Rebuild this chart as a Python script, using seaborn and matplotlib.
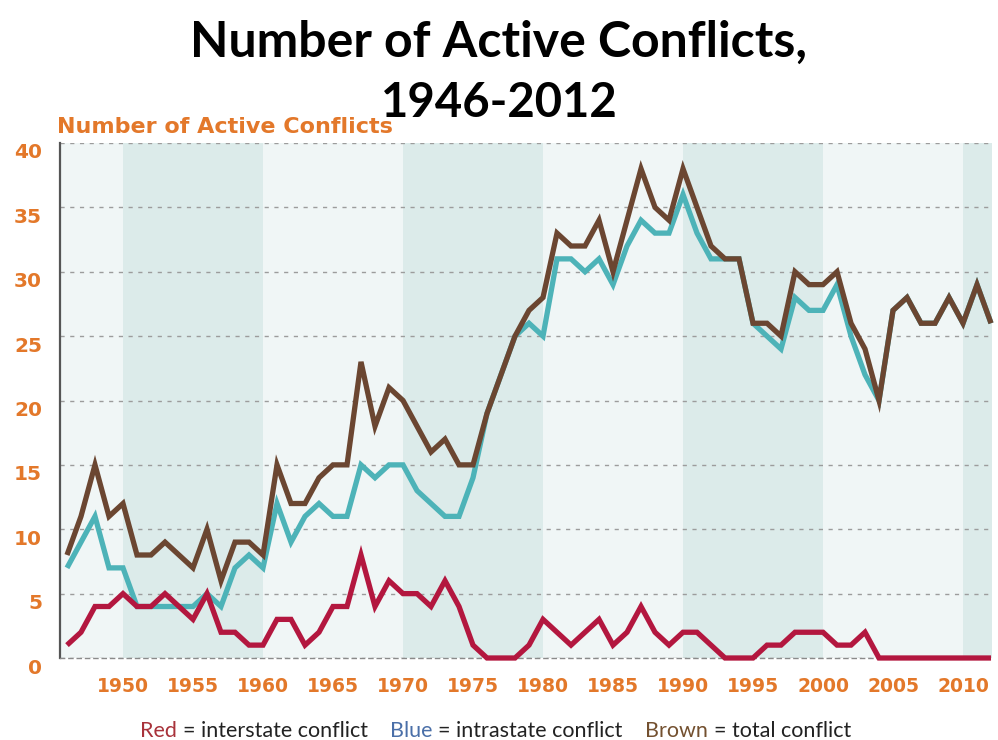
import matplotlib
matplotlib.use("Agg")
import matplotlib.pyplot as plt
import matplotlib.transforms as mtransforms
from matplotlib.ticker import FixedLocator, FixedFormatter
import pandas as pd
import seaborn as sns

# ---- data -----------------------------------------------------------------
years = list(range(1946, 2013))

interstate = [1, 2, 4, 4, 5, 4, 4, 5, 4, 3, 5, 2, 2, 1, 1,
              3, 3, 1, 2, 4, 4, 8, 4, 6, 5, 5, 4, 6, 4, 1,
              0, 0, 0, 1, 3, 2, 1, 2, 3, 1, 2, 4, 2, 1, 2,
              2, 1, 0, 0, 0, 1, 1, 2, 2, 2, 1, 1, 2, 0, 0,
              0, 0, 0, 0, 0, 0, 0]

intrastate = [7, 9, 11, 7, 7, 4, 4, 4, 4, 4, 5, 4, 7, 8, 7,
              12, 9, 11, 12, 11, 11, 15, 14, 15, 15, 13, 12, 11, 11, 14,
              19, 22, 25, 26, 25, 31, 31, 30, 31, 29, 32, 34, 33, 33, 36,
              33, 31, 31, 31, 26, 25, 24, 28, 27, 27, 29, 25, 22, 20, 27,
              28, 26, 26, 28, 26, 29, 26]

total = [8, 11, 15, 11, 12, 8, 8, 9, 8, 7, 10, 6, 9, 9, 8,
         15, 12, 12, 14, 15, 15, 23, 18, 21, 20, 18, 16, 17, 15, 15,
         19, 22, 25, 27, 28, 33, 32, 32, 34, 30, 34, 38, 35, 34, 38,
         35, 32, 31, 31, 26, 26, 25, 30, 29, 29, 30, 26, 24, 20, 27,
         28, 26, 26, 28, 26, 29, 26]

labelled_years = [1950, 1955, 1960, 1965, 1970, 1975, 1980,
                  1985, 1990, 1995, 2000, 2005, 2010]
y_ticks = [0, 5, 10, 15, 20, 25, 30, 35, 40]
shaded_decades = [(1950, 1960), (1970, 1980), (1990, 2000), (2010, 2013)]

# ---- styling ----------------------------------------------------------------
ORANGE = "#e3782a"
RED = "#b3173f"
TEAL = "#4db3b8"
BROWN = "#6b4631"
LIGHT_BG = "#f0f6f6"
DARK_BG = "#dcebea"

sns.set_theme(style="white")
plt.rcParams["font.family"] = ["DejaVu Sans"]

W, H = 998, 740
fig = plt.figure(figsize=(W / 100, H / 100), dpi=100)
fig.patch.set_facecolor("white")

ax_left, ax_right, ax_top, ax_bottom = 60, 992, 143, 658
ax = fig.add_axes([ax_left / W, 1 - ax_bottom / H,
                   (ax_right - ax_left) / W, (ax_bottom - ax_top) / H])

ax.set_facecolor(LIGHT_BG)
for start, end in shaded_decades:
    ax.axvspan(start, end, color=DARK_BG, lw=0, zorder=0)

df = pd.DataFrame({"year": years, "interstate": interstate,
                   "intrastate": intrastate, "total": total})

for col, colour, z in [("intrastate", TEAL, 3), ("total", BROWN, 4),
                       ("interstate", RED, 5)]:
    sns.lineplot(data=df, x="year", y=col, color=colour, linewidth=3.8,
                 ax=ax, zorder=z)

for line in ax.lines:
    line.set_clip_on(False)
    line.set_solid_joinstyle("miter")
    line.set_solid_capstyle("butt")

ax.set_xlim(1945.5, 2012.07)
ax.set_ylim(0, 40)

# grid
ax.set_yticks(y_ticks)
ax.yaxis.grid(True, linestyle=(0, (3, 4)), color="#9c9c9c", linewidth=1.0)
ax.xaxis.grid(False)
ax.set_axisbelow(True)

# spines
for s in ("top", "right"):
    ax.spines[s].set_visible(False)
ax.spines["left"].set_linestyle((0, (2, 1)))
ax.spines["left"].set_color("#555555")
ax.spines["left"].set_linewidth(1.6)
ax.spines["bottom"].set_linestyle((0, (3, 3)))
ax.spines["bottom"].set_color("#8a8a8a")
ax.spines["bottom"].set_linewidth(1.0)

# x ticks: a mark every year, a label every five years
ax.xaxis.set_major_locator(FixedLocator(years))
ax.xaxis.set_major_formatter(FixedFormatter(
    [str(y) if y in labelled_years else "" for y in years]))
ax.tick_params(axis="x", direction="out", length=6.5, width=1.0,
               color="#7a7a7a", pad=7, labelsize=13.5, labelcolor=ORANGE)
ax.tick_params(axis="y", length=0, pad=13, labelsize=14.5, labelcolor=ORANGE)
for lbl in ax.get_xticklabels() + ax.get_yticklabels():
    lbl.set_fontweight("bold")
shift = mtransforms.ScaledTranslation(0, -8 / 100, fig.dpi_scale_trans)
for lbl in ax.get_yticklabels():
    lbl.set_transform(lbl.get_transform() + shift)

ax.set_xlabel("")
ax.set_ylabel("")

# titles
fig.text(0.5, 1 - 42 / H, "Number of Active Conflicts,", ha="center",
         va="center", fontsize=36, fontweight="bold", color="black",
         family=["Lato", "DejaVu Sans"])
fig.text(0.5, 1 - 103 / H, "1946-2012", ha="center", va="center",
         fontsize=34, fontweight="bold", color="black",
         family=["Lato", "DejaVu Sans"])
fig.text(57 / W, 1 - 127 / H, "Number of Active Conflicts", ha="left",
         va="center", fontsize=16, fontweight="bold", color=ORANGE,
         family=["DejaVu Sans"])

# colour key below the chart
renderer = fig.canvas.get_renderer()
key_parts = [("Red", "#a8323a"), ("= interstate conflict", "#222222"),
             ("Blue", "#4a6fa8"), ("= intrastate conflict", "#222222"),
             ("Brown", "#73502f"), ("= total conflict", "#222222")]
gaps = [6, 22, 6, 22, 6, 0]
key_texts = []
for txt, colour in key_parts:
    t = fig.text(0, 1 - 731 / H, txt, ha="left", va="center", fontsize=15.5,
                 color=colour, family=["Lato", "DejaVu Sans"])
    key_texts.append(t)
widths = [t.get_window_extent(renderer).width for t in key_texts]
x = 140
for t, w, g in zip(key_texts, widths, gaps):
    t.set_x(x / W)
    x += w + g

fig.savefig("out.png", dpi=100)
